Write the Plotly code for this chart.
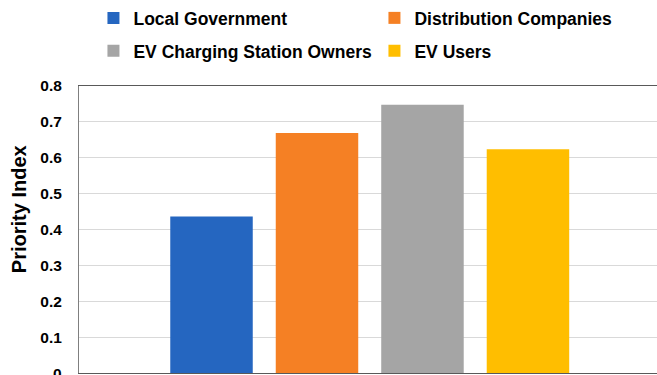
import plotly.graph_objects as go

# Priority index of each stakeholder group
stakeholders = ["Local Government", "Distribution Companies",
                "EV Charging Station Owners", "EV Users"]
priority_index = [0.436, 0.669, 0.748, 0.624]
colors = ["#2566C0", "#F58024", "#A5A5A5", "#FFBE00"]
y_ticks = [0, 0.1, 0.2, 0.3, 0.4, 0.5, 0.6, 0.7, 0.8]
y_tick_text = ["0", "0.1", "0.2", "0.3", "0.4", "0.5", "0.6", "0.7", "0.8"]

FONT = "Liberation Sans, Arial, sans-serif"
TICK_FONT = dict(family=FONT, size=15.5, color="#000000")

fig = go.Figure()
for i, (name, val, col) in enumerate(zip(stakeholders, priority_index, colors)):
    fig.add_trace(go.Bar(
        x=["group"], y=[val], name="<b>" + name + "</b>",
        marker=dict(color=col, line=dict(width=0)),
        legend="legend" if i < 2 else "legend2",
    ))

legend_common = dict(
    orientation="h", xanchor="left", yanchor="middle",
    font=dict(family=FONT, size=17.5, color="#000000"),
    entrywidth=236, entrywidthmode="pixels",
    bgcolor="rgba(0,0,0,0)", borderwidth=0,
)

fig.update_layout(
    width=657, height=375,
    margin=dict(l=79, r=0, t=86, b=2),
    paper_bgcolor="white", plot_bgcolor="white",
    barmode="group", bargap=0.27, bargroupgap=0.218,
    showlegend=True,
    legend=dict(x=0.025, y=1.237, **legend_common),
    legend2=dict(x=0.025, y=1.122, **legend_common),
    xaxis=dict(
        showticklabels=False, ticks="", range=[-0.503, 0.497],
        showline=True, linecolor="#595959", linewidth=1, mirror=True,
        showgrid=False, zeroline=False,
    ),
    yaxis=dict(
        range=[0, 0.8],
        # the baseline label sits on the figure edge, so it is added below
        tickvals=y_ticks[1:],
        ticktext=["<b>" + s + "</b>" for s in y_tick_text[1:]],
        tickfont=TICK_FONT,
        ticklabelstandoff=13,
        showline=True, linecolor="#7F7F7F", linewidth=1,
        showgrid=True, gridcolor="#D9D9D9", gridwidth=1,
        zeroline=False,
    ),
    annotations=[
        dict(
            text="<b>Priority Index</b>", textangle=-90,
            xref="paper", yref="paper", x=-0.1038, y=0.571,
            xanchor="center", yanchor="middle", showarrow=False,
            font=dict(family=FONT, size=20, color="#000000"),
        ),
        dict(
            text="<b>" + y_tick_text[0] + "</b>",
            xref="paper", yref="y", x=-0.026, y=y_ticks[0],
            xanchor="right", yanchor="middle", showarrow=False,
            font=TICK_FONT,
        ),
    ],
    font=dict(family=FONT),
)

fig.write_html("out.html")
